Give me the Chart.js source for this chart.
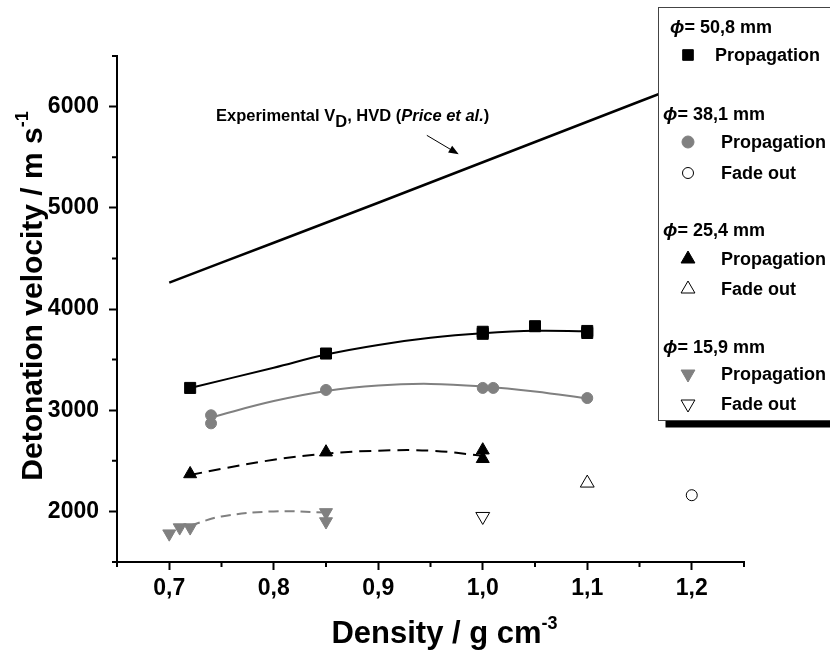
<!DOCTYPE html>
<html>
<head>
<meta charset="utf-8">
<script src="https://cdn.jsdelivr.net/npm/chart.js@4.4.0/dist/chart.umd.min.js"></script>
<style>
  html, body { margin: 0; padding: 0; background: #fff; }
  #wrap { position: relative; width: 830px; height: 652px; }
</style>
</head>
<body>
<div id="wrap"><canvas id="chart" width="830" height="652"></canvas></div>
<script>
// Detonation velocity vs density, several charge diameters

const FONT = '"Liberation Sans", Arial, sans-serif';
const GREY = '#808080';

// axis ticks
const xTicks = [0.7, 0.8, 0.9, 1.0, 1.1, 1.2];
const xMinor = [0.65, 0.75, 0.85, 0.95, 1.05, 1.15, 1.25];
const yTicks = [2000, 3000, 4000, 5000, 6000];
const yMinor = [1500, 2500, 3500, 4500, 5500, 6500];

// experimental HVD line (Price et al.)
const hvdX = [0.7, 0.8, 0.9, 1.0, 1.1, 1.2];
const hvdY = [4260, 4655, 5050, 5450, 5850, 6250];

// phi = 50,8 mm
const d508X = [0.72, 0.85, 1.0, 1.0, 1.05, 1.1, 1.1];
const d508Y = [3220, 3560, 3775, 3755, 3830, 3783, 3763];
const fit508X = [0.72, 0.8, 0.85, 0.9, 0.95, 1.0, 1.05, 1.1];
const fit508Y = [3220, 3420, 3550, 3645, 3715, 3760, 3785, 3780];

// phi = 38,1 mm
const d381X = [0.74, 0.74, 0.85, 1.0, 1.01, 1.1];
const d381Y = [2950, 2870, 3200, 3220, 3220, 3120];
const fade381X = [1.2];
const fade381Y = [2160];
const fit381X = [0.74, 0.8, 0.85, 0.9, 0.95, 1.0, 1.05, 1.1];
const fit381Y = [2930, 3090, 3190, 3245, 3260, 3235, 3185, 3115];

// phi = 25,4 mm
const d254X = [0.72, 0.85, 1.0, 1.0];
const d254Y = [2370, 2585, 2605, 2520];
const fade254X = [1.1];
const fade254Y = [2280];
const fit254X = [0.72, 0.75, 0.8, 0.85, 0.9, 0.95, 1.0];
const fit254Y = [2360, 2420, 2510, 2570, 2600, 2600, 2550];

// phi = 15,9 mm
const d159X = [0.7, 0.71, 0.72, 0.85, 0.85];
const d159Y = [1780, 1840, 1840, 1990, 1900];
const fade159X = [1.0];
const fade159Y = [1950];
const fit159X = [0.72, 0.75, 0.8, 0.85];
const fit159Y = [1860, 1950, 2000, 1990];

// legend
const groupTitles = ['50,8 mm', '38,1 mm', '25,4 mm', '15,9 mm'];
const itemLabels = ['Propagation', 'Fade out'];

const pts = (xs, ys) => xs.map((x, i) => ({ x: x, y: ys[i] }));

function markers(label, xs, ys, style, color, radius, open, rotation) {
  return {
    label: label,
    data: pts(xs, ys),
    showLine: false,
    pointStyle: style,
    pointRadius: radius,
    pointHoverRadius: radius,
    pointRotation: rotation || 0,
    pointBackgroundColor: open ? '#fff' : color,
    pointBorderColor: open ? '#000' : color,
    pointBorderWidth: 1,
    order: 1
  };
}

function fitLine(label, xs, ys, color, dash, width) {
  return {
    label: label,
    data: pts(xs, ys),
    showLine: true,
    borderColor: color,
    borderWidth: width || 2,
    borderDash: dash || [],
    pointRadius: 0,
    tension: 0.4,
    fill: false,
    order: 2
  };
}

const datasets = [
  fitLine('HVD', hvdX, hvdY, '#000', null, 2.5),
  fitLine('fit 50,8', fit508X, fit508Y, '#000'),
  fitLine('fit 38,1', fit381X, fit381Y, GREY),
  fitLine('fit 25,4', fit254X, fit254Y, '#000', [12, 7]),
  fitLine('fit 15,9', fit159X, fit159Y, GREY, [10, 6]),
  markers('50,8 prop', d508X, d508Y, 'rect', '#000', 7.8),
  markers('38,1 prop', d381X, d381Y, 'circle', GREY, 5.5),
  markers('38,1 fade', fade381X, fade381Y, 'circle', '#000', 5.5, true),
  markers('25,4 prop', d254X, d254Y, 'triangle', '#000', 7.5),
  markers('25,4 fade', fade254X, fade254Y, 'triangle', '#000', 8, true),
  markers('15,9 prop', d159X, d159Y, 'triangle', GREY, 7.5, false, 180),
  markers('15,9 fade', fade159X, fade159Y, 'triangle', '#000', 8, true, 180)
];

// draw a run of text pieces, returns the width
function drawRich(ctx, parts, x, y, measureOnly) {
  let cx = x;
  parts.forEach(p => {
    ctx.font = (p.italic ? 'italic ' : '') + 'bold ' + p.size + 'px ' + FONT;
    if (!measureOnly) ctx.fillText(p.t, cx, y + (p.dy || 0));
    cx += ctx.measureText(p.t).width;
  });
  return cx - x;
}

// minor ticks, axis titles and the annotation
const decorPlugin = {
  id: 'decor',
  afterDraw(chart) {
    const ctx = chart.ctx;
    const xs = chart.scales.x, ys = chart.scales.y;
    const area = chart.chartArea;
    ctx.save();
    ctx.strokeStyle = '#000';
    ctx.lineWidth = 2;
    ctx.beginPath();
    xMinor.forEach(v => {
      const px = xs.getPixelForValue(v);
      ctx.moveTo(px, area.bottom);
      ctx.lineTo(px, area.bottom + 5);
    });
    yMinor.forEach(v => {
      const py = ys.getPixelForValue(v);
      ctx.moveTo(area.left, py);
      ctx.lineTo(area.left - 5, py);
    });
    ctx.stroke();

    ctx.fillStyle = '#000';
    ctx.textBaseline = 'alphabetic';
    ctx.textAlign = 'left';

    // x title
    const xt = [{ t: 'Density / g cm', size: 31 }, { t: '-3', size: 18, dy: -14 }];
    const xw = drawRich(ctx, xt, 0, 0, true);
    drawRich(ctx, xt, (area.left + area.right) / 2 - xw / 2 + 14, 643);

    // y title
    const yt = [{ t: 'Detonation velocity / m s', size: 30 }, { t: '-1', size: 18, dy: -14 }];
    const yw = drawRich(ctx, yt, 0, 0, true);
    ctx.save();
    ctx.translate(42, 296);
    ctx.rotate(-Math.PI / 2);
    drawRich(ctx, yt, -yw / 2, 0);
    ctx.restore();

    // annotation
    drawRich(ctx, [
      { t: 'Experimental V', size: 16.5 },
      { t: 'D', size: 16.5, dy: 6 },
      { t: ', HVD (', size: 16.5 },
      { t: 'Price et al.', size: 16.5, italic: true },
      { t: ')', size: 16.5 }
    ], 216, 121);

    // arrow
    const ax0 = xs.getPixelForValue(0.9465), ay0 = ys.getPixelForValue(5716);
    const ax1 = xs.getPixelForValue(0.977), ay1 = ys.getPixelForValue(5529);
    const ang = Math.atan2(ay1 - ay0, ax1 - ax0);
    ctx.lineWidth = 1;
    ctx.beginPath();
    ctx.moveTo(ax0, ay0);
    ctx.lineTo(ax1 - 6 * Math.cos(ang), ay1 - 6 * Math.sin(ang));
    ctx.stroke();
    ctx.beginPath();
    ctx.moveTo(ax1, ay1);
    ctx.lineTo(ax1 - 10 * Math.cos(ang) + 4 * Math.sin(ang), ay1 - 10 * Math.sin(ang) - 4 * Math.cos(ang));
    ctx.lineTo(ax1 - 10 * Math.cos(ang) - 4 * Math.sin(ang), ay1 - 10 * Math.sin(ang) + 4 * Math.cos(ang));
    ctx.closePath();
    ctx.fill();
    ctx.restore();
  }
};

// legend box with grouped entries
const legendPlugin = {
  id: 'groupLegend',
  afterDraw(chart) {
    const ctx = chart.ctx;
    const ds = chart.data.datasets;
    const box = { x: 658.5, y: 7.5, w: 200, h: 413 };
    ctx.save();
    ctx.fillStyle = '#000';
    ctx.fillRect(box.x + 7, box.y + 7, box.w, box.h);
    ctx.fillStyle = '#fff';
    ctx.fillRect(box.x, box.y, box.w, box.h);
    ctx.strokeStyle = '#444';
    ctx.lineWidth = 1;
    ctx.strokeRect(box.x, box.y, box.w, box.h);

    const rows = [
      { head: groupTitles[0], x: 670, y: 33 },
      { ds: 5, label: itemLabels[0], mx: 688, tx: 715, y: 55, r: 7.5 },
      { head: groupTitles[1], x: 663, y: 120 },
      { ds: 6, label: itemLabels[0], mx: 688, tx: 721, y: 142, r: 6 },
      { ds: 7, label: itemLabels[1], mx: 688, tx: 721, y: 173, r: 5.5 },
      { head: groupTitles[2], x: 663, y: 236 },
      { ds: 8, label: itemLabels[0], mx: 688, tx: 721, y: 259, r: 8 },
      { ds: 9, label: itemLabels[1], mx: 688, tx: 721, y: 289, r: 8 },
      { head: groupTitles[3], x: 663, y: 353 },
      { ds: 10, label: itemLabels[0], mx: 688, tx: 721, y: 374, r: 8 },
      { ds: 11, label: itemLabels[1], mx: 688, tx: 721, y: 404, r: 8 }
    ];
    ctx.textBaseline = 'alphabetic';
    rows.forEach(row => {
      ctx.fillStyle = '#000';
      if (row.head) {
        drawRich(ctx, [{ t: '\u03D5', size: 19, italic: true }, { t: '= ' + row.head, size: 18 }], row.x, row.y);
        return;
      }
      const d = ds[row.ds];
      ctx.fillStyle = d.pointBackgroundColor;
      ctx.strokeStyle = d.pointBorderColor;
      ctx.lineWidth = 1;
      Chart.helpers.drawPoint(ctx, {
        pointStyle: d.pointStyle, radius: row.r, rotation: d.pointRotation, borderWidth: 1
      }, row.mx, row.y);
      ctx.fillStyle = '#000';
      ctx.textBaseline = 'middle';
      drawRich(ctx, [{ t: row.label, size: 18 }], row.tx, row.y + 1);
      ctx.textBaseline = 'alphabetic';
    });
    ctx.restore();
  }
};

new Chart(document.getElementById('chart'), {
  type: 'scatter',
  data: { datasets: datasets },
  options: {
    responsive: false,
    animation: false,
    events: [],
    layout: { padding: { top: 56, right: 86, left: 0, bottom: 0 } },
    plugins: {
      legend: { display: false },
      tooltip: { enabled: false }
    },
    scales: {
      x: {
        type: 'linear',
        min: 0.65,
        max: 1.25,
        afterBuildTicks: s => { s.ticks = xTicks.map(v => ({ value: v })); },
        afterFit: s => { s.height = 90; },
        border: { display: true, color: '#000', width: 2 },
        grid: { drawOnChartArea: false, drawTicks: true, tickLength: 8, tickWidth: 2, tickColor: '#000' },
        ticks: {
          color: '#000',
          padding: 5,
          font: { family: FONT, size: 23, weight: 'bold' },
          callback: v => v.toFixed(1).replace('.', ',')
        }
      },
      y: {
        type: 'linear',
        min: 1500,
        max: 6500,
        afterBuildTicks: s => { s.ticks = yTicks.map(v => ({ value: v })); },
        afterFit: s => { s.width = 117; },
        border: { display: true, color: '#000', width: 2 },
        grid: { drawOnChartArea: false, drawTicks: true, tickLength: 8, tickWidth: 2, tickColor: '#000' },
        ticks: {
          color: '#000',
          padding: 10,
          font: { family: FONT, size: 23, weight: 'bold' },
          callback: v => String(v)
        }
      }
    }
  },
  plugins: [decorPlugin, legendPlugin]
});
</script>
</body>
</html>
